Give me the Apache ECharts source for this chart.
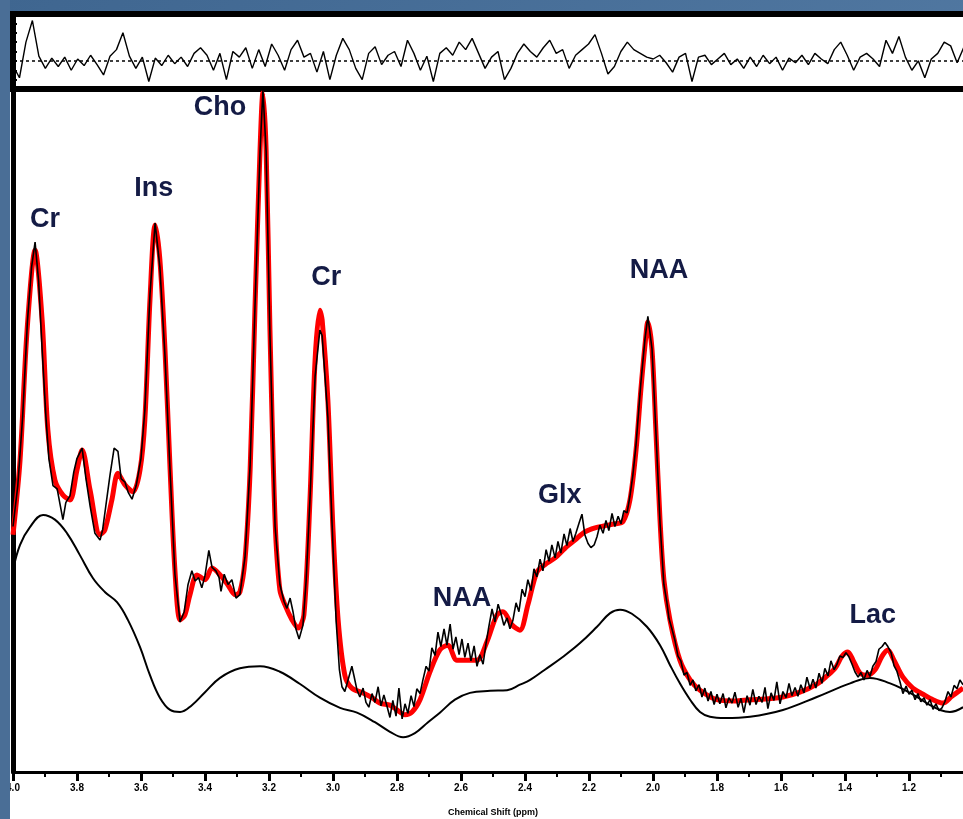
<!DOCTYPE html>
<html>
<head>
<meta charset="utf-8">
<title>MRS spectrum</title>
<script src="https://cdn.jsdelivr.net/npm/echarts@6/dist/echarts.min.js"></script>
<style>
  html, body { margin: 0; padding: 0; background: #4a6e96; }
  #main { width: 963px; height: 819px; }
</style>
</head>
<body>
<div id="main"></div>
<script>
// chemical shift ticks (ppm)
var ppmMin = 1.0;
var ppmMax = 4.0;

// residual (top panel), one value per 0.02 ppm starting at 4.00
var resStart = 4.0;
var resStep = 0.02;
var residual = [-5, -18, 20, 43, 5, -8, 3, -6, 4, -10, 2, -5, 6, -4, -15, 5, 12, 30, 5, -8,
  4, -22, 3, -5, 6, -3, 4, -6, 8, 14, 6, -10, 8, -20, 10, 4, 14, -8, 12, -6,
  18, 6, -10, 12, 22, 4, 8, -12, 10, -20, 6, 24, 12, -8, -20, 8, 15, -4, 6, 10,
  -6, 22, 8, -10, 5, -22, 8, 14, 6, 20, 12, 24, 8, -8, 4, 10, -20, -8, 8, 18,
  10, 4, 14, 22, 8, 12, -8, 6, 12, 18, 28, 8, -14, -6, 10, 20, 12, 8, 4, 2,
  6, -2, -12, 4, 8, -22, 4, 6, -4, 2, 8, -4, 2, -8, 4, -6, 6, -3, 4, -10,
  3, -2, 6, -4, 8, 2, -3, 12, 20, 6, -10, 4, 8, 2, -6, 22, 8, 26, 4, -10,
  0, -18, 2, 8, 20, 16, -2, 14, 22, -6];

// LCModel fit (red)
var fit = [
  [4.000, 34.8], [3.978, 45.7], [3.956, 64.8], [3.931, 76.5], [3.909, 66.3], [3.891, 50.1],
  [3.869, 42.8], [3.844, 40.6], [3.822, 39.9], [3.800, 44.3], [3.784, 47.2], [3.759, 41.3],
  [3.728, 34.8], [3.713, 35.5], [3.691, 39.9], [3.672, 43.8], [3.650, 42.1], [3.625, 41.1],
  [3.603, 44.3], [3.588, 51.6], [3.572, 69.2], [3.556, 80.2], [3.541, 75.1], [3.525, 61.9],
  [3.509, 44.3], [3.494, 29.6], [3.478, 22.3], [3.463, 23.0], [3.447, 26.0], [3.425, 28.9],
  [3.400, 28.2], [3.378, 29.9], [3.353, 28.9], [3.328, 27.4], [3.306, 26.0], [3.291, 26.4],
  [3.275, 31.1], [3.259, 44.3], [3.244, 67.7], [3.228, 91.2], [3.219, 99.6], [3.209, 91.2],
  [3.197, 64.8], [3.181, 36.9], [3.166, 26.7], [3.150, 24.5], [3.128, 22.3], [3.109, 21.1],
  [3.091, 23.0], [3.072, 39.9], [3.056, 60.4], [3.041, 67.7], [3.034, 66.3], [3.016, 54.5],
  [3.000, 35.5], [2.984, 22.3], [2.963, 14.2], [2.941, 12.3], [2.906, 11.6], [2.878, 10.9],
  [2.853, 10.1], [2.822, 9.8], [2.800, 9.1], [2.775, 8.4], [2.753, 8.8], [2.728, 10.6],
  [2.697, 14.7], [2.666, 17.9], [2.641, 18.6], [2.613, 16.4], [2.588, 16.4], [2.550, 16.4],
  [2.519, 19.1], [2.488, 23.0], [2.469, 23.5], [2.441, 21.6], [2.416, 20.8], [2.391, 24.5],
  [2.363, 29.3], [2.338, 30.4], [2.306, 31.4], [2.275, 32.8], [2.244, 34.0], [2.213, 35.2],
  [2.181, 35.8], [2.150, 36.1], [2.119, 36.4], [2.094, 36.7], [2.072, 39.9], [2.053, 47.2],
  [2.038, 56.0], [2.025, 62.6], [2.016, 66.0], [2.003, 61.9], [1.991, 50.1], [1.978, 36.9],
  [1.966, 28.2], [1.947, 22.3], [1.916, 16.4], [1.884, 13.5], [1.853, 12.0], [1.800, 10.6],
  [1.744, 10.4], [1.697, 10.6], [1.650, 10.7], [1.594, 11.0], [1.541, 11.7], [1.488, 12.9],
  [1.456, 14.1], [1.431, 15.2], [1.409, 17.0], [1.391, 17.6], [1.375, 16.4], [1.353, 14.5],
  [1.331, 14.2], [1.306, 15.0], [1.284, 17.0], [1.266, 17.9], [1.247, 16.4], [1.219, 13.9],
  [1.188, 12.3], [1.156, 11.4], [1.125, 10.6], [1.094, 10.1], [1.066, 11.1], [1.031, 12.3]
];

// measured spectrum (black, noisy)
var spectrum = [
  [4.000, 36.0], [3.985, 42], [3.970, 52], [3.955, 66], [3.942, 74], [3.931, 77.7], [3.920, 72],
  [3.909, 62], [3.897, 52], [3.888, 46], [3.875, 42], [3.862, 41.5], [3.850, 38.5], [3.844, 37.0],
  [3.835, 39.5], [3.822, 40.5], [3.810, 44], [3.800, 46], [3.784, 47.5], [3.772, 43], [3.759, 39],
  [3.744, 35], [3.728, 34.0], [3.720, 35.5], [3.710, 39], [3.697, 43.5], [3.684, 47.5], [3.672, 47.0],
  [3.662, 43], [3.650, 42.5], [3.640, 41], [3.628, 40], [3.615, 42], [3.600, 46], [3.588, 53],
  [3.572, 70], [3.556, 80.5], [3.541, 74], [3.525, 61], [3.509, 44], [3.494, 29], [3.478, 22.0],
  [3.465, 23.5], [3.453, 27.5], [3.441, 29.5], [3.431, 28], [3.420, 28.5], [3.410, 27], [3.400, 28.8],
  [3.388, 32.5], [3.378, 30], [3.366, 29.5], [3.356, 28.5], [3.350, 26.5], [3.340, 29], [3.328, 27.5],
  [3.316, 28.2], [3.303, 25.5], [3.291, 26.0], [3.275, 31.5], [3.259, 45], [3.244, 68], [3.228, 91],
  [3.219, 100], [3.209, 91], [3.197, 64], [3.181, 36], [3.166, 27.5], [3.153, 25], [3.144, 24],
  [3.134, 25.5], [3.125, 23.5], [3.116, 21], [3.106, 19.5], [3.094, 21.5], [3.084, 28], [3.072, 40],
  [3.056, 58], [3.041, 64.8], [3.034, 64], [3.016, 52], [3.000, 33], [2.990, 22], [2.980, 15],
  [2.972, 12.5], [2.963, 11.8], [2.953, 13.5], [2.941, 15.5], [2.934, 14], [2.925, 12], [2.916, 11],
  [2.906, 12.3], [2.897, 10.2], [2.888, 9.5], [2.878, 11.5], [2.869, 10.2], [2.859, 12.5], [2.850, 9.7],
  [2.841, 11.3], [2.831, 9.6], [2.822, 8.0], [2.813, 10.5], [2.803, 8.2], [2.794, 12.3], [2.784, 7.8],
  [2.775, 10], [2.766, 8.6], [2.756, 11.2], [2.747, 9.6], [2.738, 12.2], [2.728, 11.5], [2.719, 13.5],
  [2.709, 15.5], [2.700, 14.8], [2.691, 18.2], [2.681, 17.1], [2.672, 20.5], [2.663, 18.4], [2.653, 21.0],
  [2.644, 18.6], [2.634, 21.7], [2.625, 18.0], [2.616, 19.8], [2.606, 17.2], [2.597, 19.5], [2.588, 16.8],
  [2.578, 18.9], [2.569, 16.3], [2.559, 18.5], [2.550, 15.5], [2.541, 17.2], [2.531, 15.8], [2.522, 18.8],
  [2.513, 21.3], [2.503, 23.9], [2.494, 22.0], [2.484, 24.6], [2.475, 23.2], [2.466, 21.5], [2.456, 22.6],
  [2.447, 21.0], [2.438, 22.2], [2.428, 24.8], [2.419, 23.5], [2.409, 26.8], [2.400, 25.7], [2.391, 28.2],
  [2.381, 26.6], [2.372, 29.8], [2.363, 28.6], [2.353, 31.2], [2.344, 29.5], [2.334, 32.6], [2.325, 30.9],
  [2.316, 33.3], [2.306, 31.4], [2.297, 33.8], [2.288, 32.1], [2.278, 34.9], [2.269, 33.2], [2.259, 35.7],
  [2.250, 33.8], [2.241, 35.0], [2.231, 36.5], [2.222, 37.8], [2.213, 34.8], [2.203, 33.5], [2.194, 32.9],
  [2.184, 33.3], [2.175, 34.5], [2.166, 36.2], [2.156, 35.0], [2.147, 36.9], [2.138, 35.4], [2.128, 37.9],
  [2.119, 36.0], [2.109, 37.5], [2.100, 36.4], [2.091, 38.3], [2.081, 38.0], [2.072, 40.5], [2.063, 43.5],
  [2.053, 48], [2.038, 57], [2.025, 63.5], [2.016, 66.8], [2.003, 62], [1.991, 50], [1.978, 36.5],
  [1.966, 27.5], [1.957, 25.0], [1.950, 22.5], [1.941, 21.0], [1.931, 19.2], [1.922, 17.0], [1.913, 16.3],
  [1.903, 14.2], [1.894, 14.6], [1.884, 12.7], [1.875, 13.5], [1.866, 11.9], [1.856, 12.8], [1.847, 11.0],
  [1.838, 12.3], [1.828, 10.4], [1.819, 11.8], [1.809, 9.9], [1.800, 11.4], [1.791, 10.0], [1.781, 11.5],
  [1.772, 9.4], [1.763, 10.9], [1.753, 10.1], [1.744, 11.7], [1.734, 9.5], [1.725, 10.8], [1.716, 8.7],
  [1.706, 11.2], [1.697, 9.8], [1.688, 12.1], [1.678, 9.9], [1.669, 11.1], [1.659, 10.2], [1.650, 12.4],
  [1.641, 9.3], [1.631, 11.6], [1.622, 10.5], [1.613, 13.2], [1.603, 10.0], [1.594, 11.8], [1.584, 10.9],
  [1.575, 13.0], [1.566, 11.2], [1.556, 12.4], [1.547, 11.1], [1.538, 12.8], [1.528, 11.6], [1.519, 13.9],
  [1.509, 12.2], [1.500, 13.6], [1.491, 12.3], [1.481, 14.5], [1.472, 13.0], [1.463, 15.2], [1.453, 14.1],
  [1.444, 16.3], [1.434, 15.0], [1.425, 15.8], [1.416, 17.0], [1.406, 16.8], [1.397, 17.5], [1.388, 16.9],
  [1.378, 15.8], [1.369, 14.7], [1.359, 13.9], [1.350, 14.6], [1.341, 13.5], [1.331, 14.9], [1.322, 14.0],
  [1.313, 15.5], [1.303, 16.2], [1.294, 18.0], [1.284, 18.4], [1.275, 19.0], [1.266, 18.4], [1.256, 17.5],
  [1.247, 15.6], [1.238, 14.8], [1.228, 13.2], [1.219, 11.5], [1.209, 12.6], [1.200, 11.4], [1.191, 12.0],
  [1.181, 10.6], [1.172, 11.5], [1.163, 10.3], [1.153, 10.9], [1.144, 9.8], [1.134, 10.6], [1.125, 9.2],
  [1.116, 10.0], [1.106, 9.0], [1.097, 9.4], [1.088, 10.3], [1.078, 11.8], [1.069, 11.0], [1.059, 12.7],
  [1.050, 12.2], [1.041, 13.5], [1.031, 12.8]
];

// baseline (smooth black)
var baseline = [
  [4.000, 29.6], [3.978, 33.3], [3.947, 35.9], [3.906, 37.7], [3.869, 37.0], [3.831, 35.0], [3.791, 31.8],
  [3.750, 28.4], [3.713, 26.4], [3.675, 24.9], [3.641, 22.3], [3.603, 18.3], [3.572, 14.2], [3.541, 10.9],
  [3.509, 9.1], [3.478, 8.8], [3.441, 9.8], [3.400, 11.7], [3.353, 13.8], [3.291, 15.2], [3.228, 15.5],
  [3.166, 14.7], [3.103, 12.9], [3.041, 10.9], [2.978, 9.4], [2.925, 8.7], [2.869, 7.3], [2.822, 5.9],
  [2.781, 5.1], [2.744, 5.7], [2.703, 7.3], [2.666, 8.7], [2.619, 10.6], [2.572, 11.6], [2.509, 11.9],
  [2.456, 12.0], [2.416, 12.8], [2.384, 13.5], [2.338, 15.0], [2.281, 16.9], [2.228, 18.9], [2.175, 21.3],
  [2.134, 23.3], [2.103, 23.8], [2.066, 23.2], [2.019, 21.3], [1.978, 18.6], [1.947, 15.7], [1.916, 13.0],
  [1.884, 10.6], [1.853, 8.8], [1.822, 8.1], [1.775, 7.9], [1.697, 8.1], [1.594, 9.1], [1.488, 11.0],
  [1.384, 13.0], [1.322, 13.8], [1.259, 13.0], [1.213, 12.0], [1.175, 11.0], [1.134, 9.8], [1.103, 9.1],
  [1.072, 8.8], [1.031, 9.5]
];

// peak labels: name, ppm, height
var peakNames = ['Cr', 'Ins', 'Cho', 'Cr', 'NAA', 'Glx', 'NAA', 'Lac'];
var peakPpm = [3.900, 3.560, 3.353, 3.021, 2.597, 2.291, 1.981, 1.313];
var peakHeight = [81, 85.5, 97.5, 72.5, 25.5, 40.5, 73.5, 23];

var residualData = residual.map(function (v, i) {
  return [+(resStart - i * resStep).toFixed(3), v];
});

var labelData = peakNames.map(function (n, i) {
  return { value: [peakPpm[i], peakHeight[i]], name: n };
});

var myChart = echarts.init(document.getElementById('main'));

var option = {
  animation: false,
  backgroundColor: new echarts.graphic.LinearGradient(0, 0, 1, 1, [
    { offset: 0, color: '#3f6690' },
    { offset: 1, color: '#5b82ab' }
  ]),
  graphic: [
    { type: 'rect', z: -10, shape: { x: 10, y: 11, width: 960, height: 810 }, style: { fill: '#fff' } },
    { type: 'rect', z: 100, shape: { x: 0, y: 0, width: 10, height: 819 }, style: { fill: '#4a6e96' } }
  ],
  grid: [
    { left: 13, top: 14, width: 970, height: 75, outerBoundsMode: 'none', show: true, borderColor: '#000', borderWidth: 6, backgroundColor: 'transparent' },
    { left: 13, top: 90, width: 960, height: 682, outerBoundsMode: 'none' }
  ],
  xAxis: [
    {
      gridIndex: 0, type: 'value', min: ppmMin, max: ppmMax, inverse: true,
      axisLine: { show: false }, axisTick: { show: false }, axisLabel: { show: false }, splitLine: { show: false }
    },
    {
      gridIndex: 1, type: 'value', min: ppmMin, max: ppmMax, interval: 0.2, inverse: true,
      name: 'Chemical Shift (ppm)', nameLocation: 'middle', nameGap: 36,
      nameTextStyle: { fontFamily: 'Liberation Sans', fontSize: 9, fontWeight: 'bold', color: '#000' },
      axisLine: { onZero: false, lineStyle: { color: '#000', width: 3 } },
      axisTick: { length: 9, lineStyle: { color: '#000', width: 3 } },
      minorTick: { show: true, splitNumber: 2, length: 5, lineStyle: { color: '#000', width: 2 } },
      axisLabel: {
        margin: 11, fontFamily: 'Liberation Sans', fontSize: 10, fontWeight: 'bold', color: '#000',
        formatter: function (v) { return v.toFixed(1); }
      },
      splitLine: { show: false }
    }
  ],
  yAxis: [
    {
      gridIndex: 0, type: 'value', min: -30, max: 50, interval: 10,
      axisLine: { show: false },
      axisTick: { show: true, inside: true, length: 4, lineStyle: { color: '#000', width: 2 } },
      axisLabel: { show: false }, splitLine: { show: false }
    },
    {
      gridIndex: 1, type: 'value', min: 0, max: 100,
      axisLine: { show: true, onZero: false, lineStyle: { color: '#000', width: 5 } },
      axisTick: { show: false }, axisLabel: { show: false }, splitLine: { show: false }
    }
  ],
  series: [
    {
      name: 'Residual', type: 'line', xAxisIndex: 0, yAxisIndex: 0, data: residualData,
      symbol: 'none', lineStyle: { color: '#000', width: 1.4 },
      markLine: {
        silent: true, symbol: 'none', label: { show: false },
        lineStyle: { color: '#000', type: [3, 3], width: 1.5 },
        data: [{ yAxis: 0 }]
      }
    },
    {
      name: 'Baseline', type: 'line', xAxisIndex: 1, yAxisIndex: 1, data: baseline,
      symbol: 'none', smooth: 0.4, lineStyle: { color: '#000', width: 2 }
    },
    {
      name: 'Fit', type: 'line', xAxisIndex: 1, yAxisIndex: 1, data: fit,
      symbol: 'none', smooth: 0.3, lineStyle: { color: '#ff0000', width: 5 }
    },
    {
      name: 'Spectrum', type: 'line', xAxisIndex: 1, yAxisIndex: 1, data: spectrum,
      symbol: 'none', lineStyle: { color: '#000', width: 1.6 }
    },
    {
      name: 'Labels', type: 'scatter', xAxisIndex: 1, yAxisIndex: 1, data: labelData,
      symbolSize: 0, silent: true, itemStyle: { opacity: 1 },
      label: {
        show: true, position: 'inside', formatter: '{b}',
        fontFamily: 'Liberation Sans', fontSize: 27, fontWeight: 'bold', color: '#141b45'
      }
    }
  ]
};

myChart.setOption(option);
</script>
</body>
</html>
